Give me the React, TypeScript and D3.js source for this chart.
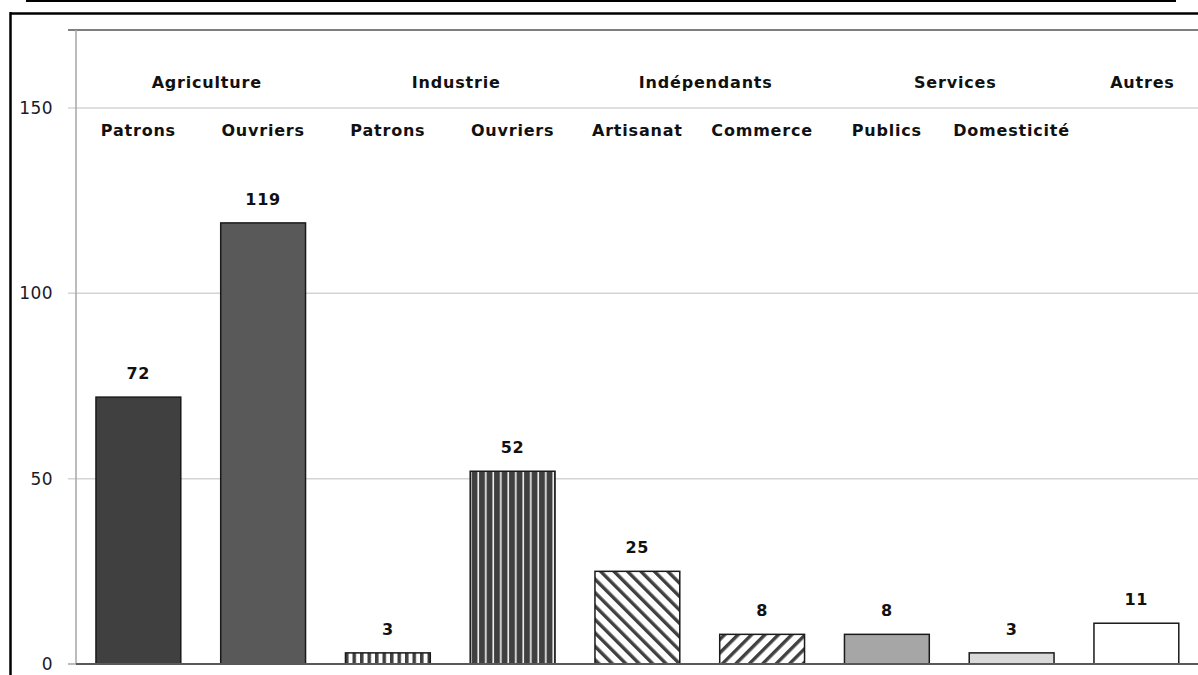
import React from 'react';
import * as d3 from 'd3';

const categories = ['Patrons', 'Ouvriers', 'Patrons', 'Ouvriers', 'Artisanat', 'Commerce', 'Publics', 'Domesticité', ''];
const values = [72, 119, 3, 52, 25, 8, 8, 3, 11];
const groups = [
  { name: 'Agriculture', from: 0, to: 1 },
  { name: 'Industrie', from: 2, to: 3 },
  { name: 'Indépendants', from: 4, to: 5 },
  { name: 'Services', from: 6, to: 7 },
  { name: 'Autres', from: 8, to: 8 },
];
const yTicks = [0, 50, 100, 150];
const fills = ['#404040', '#595959', 'url(#vstripeLight)', 'url(#vstripeDark)', 'url(#diagBack)', 'url(#diagFwd)', '#a6a6a6', '#d9d9d9', '#ffffff'];

const W = 1198;
const H = 675;
const FONT = 'Tahoma, "DejaVu Sans", sans-serif';

const App = () => {
  const margin = { left: 76, top: 30, bottom: 664 };
  const x = d3.scaleBand<number>()
    .domain(d3.range(values.length))
    .range([margin.left, margin.left + 124.75 * values.length])
    .paddingInner(0.32)
    .paddingOuter(0.16);
  const y = d3.scaleLinear().domain([0, 150]).range([margin.bottom, 108]);
  const bw = x.bandwidth();
  const cx = (i: number) => (x(i) as number) + bw / 2;

  const labelStyle = {
    fontFamily: FONT,
    fontWeight: 'bold' as const,
    fontSize: 16,
    letterSpacing: 0.8,
    fill: '#111',
  };

  return (
    <svg width={W} height={H} style={{ position: 'absolute', left: 0, top: 0, background: '#fff' }}>
      <defs>
        <pattern id="vstripeLight" width="7.5" height="10" patternUnits="userSpaceOnUse">
          <rect width="7.5" height="10" fill="#fff" />
          <rect x="0" width="3.5" height="10" fill="#404040" />
        </pattern>
        <pattern id="vstripeDark" width="7.5" height="10" patternUnits="userSpaceOnUse">
          <rect width="7.5" height="10" fill="#404040" />
          <rect x="5" width="1.6" height="10" fill="#f2f2f2" />
        </pattern>
        <pattern id="diagBack" width="9.5" height="9.5" patternUnits="userSpaceOnUse" patternTransform="rotate(-45)">
          <rect width="9.5" height="9.5" fill="#fff" />
          <rect width="3.4" height="9.5" fill="#404040" />
        </pattern>
        <pattern id="diagFwd" width="9.5" height="9.5" patternUnits="userSpaceOnUse" patternTransform="rotate(45)">
          <rect width="9.5" height="9.5" fill="#fff" />
          <rect width="3.4" height="9.5" fill="#404040" />
        </pattern>
      </defs>

      {/* frame lines */}
      <line x1={26} x2={1176} y1={1} y2={1} stroke="#000" strokeWidth={2} />
      <line x1={10} x2={W} y1={13.5} y2={13.5} stroke="#000" strokeWidth={2.5} />
      <line x1={10.5} x2={10.5} y1={12} y2={H} stroke="#000" strokeWidth={2.5} />

      {/* gridlines */}
      {yTicks.filter(t => t > 0).map(t => (
        <line key={t} x1={68} x2={W} y1={y(t)} y2={y(t)} stroke="#d4d4d4" strokeWidth={1.5} />
      ))}
      <line x1={68} x2={W} y1={margin.top} y2={margin.top} stroke="#7f7f7f" strokeWidth={2} />
      <line x1={68} x2={76} y1={margin.bottom} y2={margin.bottom} stroke="#a6a6a6" strokeWidth={1.5} />
      <line x1={76} x2={76} y1={margin.top} y2={margin.bottom} stroke="#a6a6a6" strokeWidth={1.5} />

      {yTicks.map(t => (
        <text key={t} x={53} y={y(t)} dy="0.36em" textAnchor="end" fontFamily={FONT} fontSize={17} letterSpacing={0.4} fill="#1a1a2a">
          {t}
        </text>
      ))}

      {/* bars */}
      {values.map((v, i) => (
        <g key={i}>
          <rect
            x={x(i)}
            y={y(v)}
            width={bw}
            height={y(0) - y(v)}
            fill={fills[i]}
            stroke="#1a1a1a"
            strokeWidth={1.5}
          />
          <text x={cx(i)} y={y(v) - 18} textAnchor="middle" {...labelStyle}>
            {v}
          </text>
          <text x={cx(i)} y={136} textAnchor="middle" {...labelStyle}>
            {categories[i]}
          </text>
        </g>
      ))}

      <line x1={76} x2={W} y1={margin.bottom} y2={margin.bottom} stroke="#595959" strokeWidth={2} />

      {groups.map(g => (
        <text
          key={g.name}
          x={(cx(g.from) + cx(g.to)) / 2 + 6}
          y={88}
          textAnchor="middle"
          {...labelStyle}
        >
          {g.name}
        </text>
      ))}
    </svg>
  );
};

export default App;
